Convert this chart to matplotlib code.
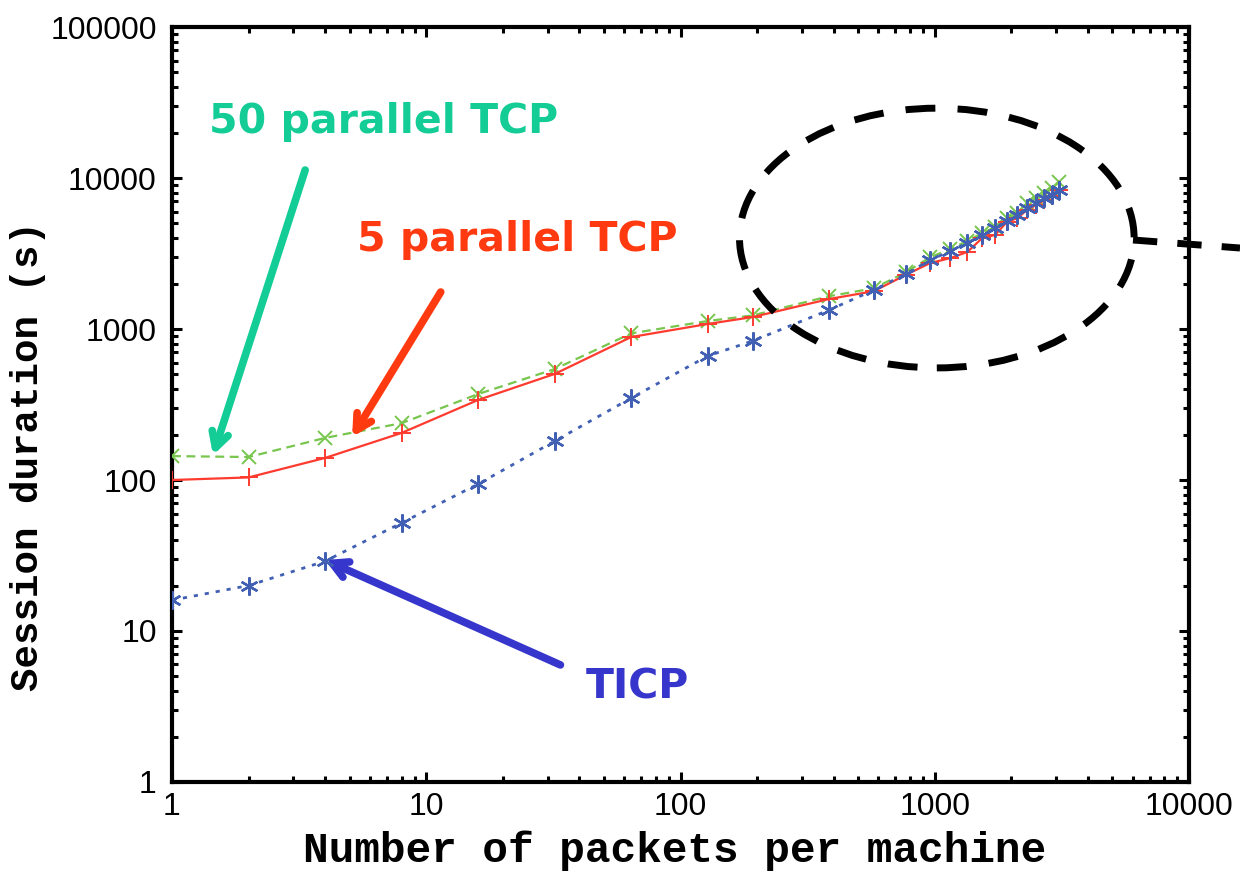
import matplotlib
matplotlib.use("Agg")
import matplotlib.pyplot as plt
from matplotlib.patches import Ellipse
from matplotlib.lines import Line2D

# Number of packets per machine
packets = [1, 2, 4, 8, 16, 32, 64, 128, 192, 384, 576, 768, 960, 1152, 1344,
           1536, 1728, 1920, 2112, 2304, 2496, 2688, 2880, 3072]

# Session duration (s) for each scheme
ticp = [16, 20, 29, 52, 94, 181, 349, 663, 833, 1336, 1812, 2312, 2864, 3288,
        3716, 4200, 4670, 5193, 5690, 6330, 6830, 7380, 7720, 8330]
tcp5 = [100, 104, 140, 205, 339, 504, 885, 1080, 1200, 1580, 1780, 2280, 2735,
        2950, 3240, 4000, 4200, 5110, 5430, 6140, 6600, 7100, 7600, 8300]
tcp50 = [144, 142, 190, 238, 371, 543, 936, 1130, 1230, 1650, 1860, 2370, 2990,
         3390, 3830, 4320, 4730, 5430, 5870, 6830, 7400, 8000, 8600, 9400]

x_ticks = [1, 10, 100, 1000, 10000]
x_tick_labels = ["1", "10", "100", "1000", "10000"]
y_ticks = [1, 10, 100, 1000, 10000, 100000]
y_tick_labels = ["1", "10", "100", "1000", "10000", "100000"]

fig = plt.figure(figsize=(12.4, 8.75), dpi=100)
ax = fig.add_axes([0.1387, 0.1063, 0.8202, 0.8628])

ax.plot(packets, tcp50, color="#78C64E", ls=(0, (4, 2.5)), lw=1.6,
        marker="x", ms=10, mew=1.4, zorder=3)
ax.plot(packets, tcp5, color="#FF3B2F", ls="-", lw=1.6,
        marker="+", ms=13, mew=1.4, zorder=4)
ax.plot(packets, ticp, color="#4160B4", ls=(0, (1.5, 2.5)), lw=2.0,
        marker=(6, 2, 0), ms=13, mew=1.7, zorder=5)

ax.set_xscale("log")
ax.set_yscale("log")
ax.set_xlim(1, 10000)
ax.set_ylim(1, 100000)
ax.set_xticks(x_ticks)
ax.set_xticklabels(x_tick_labels)
ax.set_yticks(y_ticks)
ax.set_yticklabels(y_tick_labels)

for sp in ax.spines.values():
    sp.set_linewidth(3)
ax.tick_params(which="both", direction="in", top=True, right=True,
               labelsize=23, width=2.2)
ax.tick_params(which="major", length=7.5)
ax.tick_params(axis="y", which="major", pad=11)
ax.tick_params(axis="x", which="major", pad=7)
ax.tick_params(which="minor", length=4)
for lab in ax.get_xticklabels() + ax.get_yticklabels():
    lab.set_family("Liberation Sans")

ax.set_xlabel("Number of packets per machine", family="Liberation Mono",
              fontweight="bold", fontsize=30.8)
ax.set_ylabel("Session duration (s)", family="Liberation Mono",
              fontweight="bold", fontsize=28.2)
ax.xaxis.set_label_coords(0.494, -0.064)
ax.yaxis.set_label_coords(-0.124, 0.432)

# Callout labels with arrows
arrow_kw = dict(arrowstyle="->,head_length=1.1,head_width=0.6", lw=5.5,
                shrinkA=0, shrinkB=0)
ax.annotate("", xy=(1.45, 146), xytext=(3.34, 11300),
            arrowprops=dict(color="#14CC96", **arrow_kw))
ax.annotate("", xy=(5.11, 193), xytext=(11.4, 1758),
            arrowprops=dict(color="#FF3A10", **arrow_kw))
ax.annotate("", xy=(4.0, 29.5), xytext=(33.7, 5.96),
            arrowprops=dict(color="#3636CC", **arrow_kw))

txt_kw = dict(fontweight="bold", fontsize=29.5, ha="center", va="center",
              family="DejaVu Sans")
ax.text(6.77, 23500, "50 parallel TCP", color="#14CC96", **txt_kw)
ax.text(22.8, 3885, "5 parallel TCP", color="#FF3A10", **txt_kw)
ax.text(67.7, 4.2, "TICP", color="#3636CC", **txt_kw)

# Dashed ellipse highlighting the high-load region, with a leader line
ell = Ellipse((0.752, 0.7205), 0.388, 0.344, transform=ax.transAxes,
              fill=False, ec="black", lw=5, ls=(0, (4.3, 3.2)),
              clip_on=False, zorder=6)
ax.add_patch(ell)
fig.add_artist(Line2D([1133 / 1240, 1.0], [1 - 240 / 875, 1 - 248 / 875],
                      color="black", lw=5, ls=(0, (3.5, 2.9)),
                      transform=fig.transFigure))

fig.savefig("out.png", dpi=100, facecolor="white")
